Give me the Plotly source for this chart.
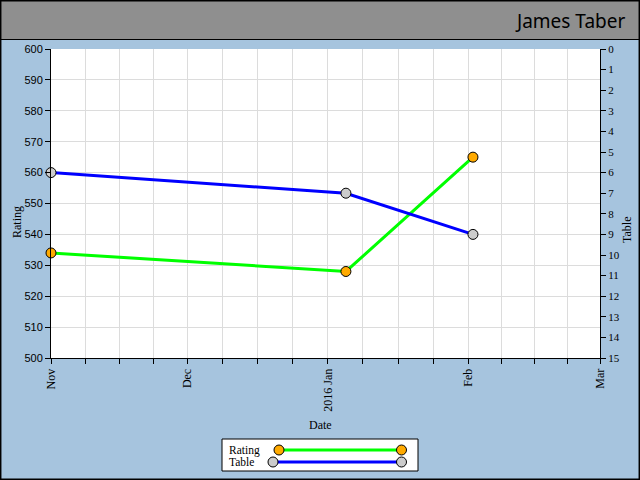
import plotly.graph_objects as go
import pandas as pd

# ---- data ----
dates = ["2015-11-01", "2016-01-05", "2016-02-02"]
rating = [534, 528, 565]
table_pos = [6, 7, 9]
month_starts = ["2015-11-01", "2015-12-01", "2016-01-01", "2016-02-01", "2016-03-01"]
month_labels = ["Nov", "Dec", "2016 Jan", "Feb", "Mar"]
rating_ticks = list(range(500, 601, 10))
table_ticks = list(range(0, 16))

W, H = 640, 480
L, R, T, B = 51, 600, 49, 358


def px(x):
    return (x - L) / (R - L)


def py(y):
    return (B - y) / (B - T)


ms = pd.to_datetime(month_starts)
minor_vals = []
for a, b in zip(ms[:-1], ms[1:]):
    for k in (1, 2, 3):
        minor_vals.append((a + (b - a) * k / 4).isoformat())

GREEN = "#00ff00"
BLUE = "#0000ff"
ORANGE = "#ffaa00"
GREY = "#cccccc"
GRID = "#dcdcdc"
BG = "#a6c4de"
SERIF = "Liberation Serif"

fig = go.Figure()
fig.add_trace(go.Scatter(
    x=dates, y=rating, name="Rating", mode="lines+markers",
    line=dict(color=GREEN, width=3),
    marker=dict(size=10, color=ORANGE, line=dict(color="black", width=1)),
    yaxis="y", showlegend=False, cliponaxis=False))
fig.add_trace(go.Scatter(
    x=dates, y=table_pos, name="Table", mode="lines+markers",
    line=dict(color=BLUE, width=3),
    marker=dict(size=10, color=GREY, line=dict(color="black", width=1)),
    yaxis="y2", showlegend=False, cliponaxis=False))

shapes = []
# header band
shapes.append(dict(type="rect", xref="paper", yref="paper",
                   x0=px(0), x1=px(640), y0=py(39.5), y1=py(0),
                   fillcolor="#8f8f8f", line=dict(color="black", width=1), layer="below"))
# outer border
shapes.append(dict(type="rect", xref="paper", yref="paper",
                   x0=px(0.7), x1=px(639.3), y0=py(479.3), y1=py(0.7),
                   line=dict(color="black", width=1.5), layer="above"))
# legend box
shapes.append(dict(type="rect", xref="paper", yref="paper",
                   x0=px(222), x1=px(418), y0=py(471), y1=py(439),
                   fillcolor="white", line=dict(color="black", width=1), layer="above"))
legend_rows = [("Rating", GREEN, ORANGE, 279, 450),
               ("Table", BLUE, GREY, 273, 462)]
annotations = []
for name, lc, mc, x0, yy in legend_rows:
    shapes.append(dict(type="line", xref="paper", yref="paper",
                       x0=px(x0), x1=px(401.5), y0=py(yy), y1=py(yy),
                       line=dict(color=lc, width=3), layer="above"))
    for cx in (x0, 401.5):
        shapes.append(dict(type="circle", xref="paper", yref="paper",
                           xsizemode="pixel", ysizemode="pixel",
                           xanchor=px(cx), yanchor=py(yy),
                           x0=-5, x1=5, y0=-5, y1=5,
                           fillcolor=mc, line=dict(color="black", width=1), layer="above"))
    annotations.append(dict(text=name, xref="paper", yref="paper",
                            x=px(228), y=py(yy), xanchor="left", yanchor="middle",
                            showarrow=False, borderpad=0,
                            font=dict(family=SERIF, size=11.5, color="black")))

annotations.append(dict(text="James Taber", xref="paper", yref="paper",
                        x=px(627), y=py(21), xanchor="right", yanchor="middle",
                        showarrow=False, font=dict(family="Noto Sans", size=19, color="black")))
annotations.append(dict(text="Rating", xref="paper", yref="paper",
                        x=px(17), y=py(222), xanchor="center", yanchor="middle", textangle=-90,
                        showarrow=False, font=dict(family=SERIF, size=12, color="black")))
annotations.append(dict(text="Table", xref="paper", yref="paper",
                        x=px(627), y=py(230), xanchor="center", yanchor="middle", textangle=-90,
                        showarrow=False, font=dict(family=SERIF, size=12, color="black")))
annotations.append(dict(text="Date", xref="paper", yref="paper",
                        x=px(320), y=py(425), xanchor="center", yanchor="middle",
                        showarrow=False, font=dict(family=SERIF, size=12, color="black")))

fig.update_layout(
    width=W, height=H,
    margin=dict(l=L, r=W - R, t=T, b=H - B, pad=0),
    paper_bgcolor=BG, plot_bgcolor="white",
    font=dict(family=SERIF, size=12, color="black"),
    shapes=shapes, annotations=annotations,
    xaxis=dict(
        type="date", range=[month_starts[0], month_starts[-1]],
        tickmode="array", tickvals=month_starts, ticktext=month_labels,
        tickangle=-90, ticks="outside", ticklen=5, tickcolor="black", tickwidth=1,
        showline=True, linecolor="black", linewidth=1,
        showgrid=True, gridcolor=GRID, gridwidth=1, zeroline=False,
        tickfont=dict(family=SERIF, size=12),
        minor=dict(tickmode="array", tickvals=minor_vals, ticks="outside", ticklen=5,
                   tickcolor="black", tickwidth=1, showgrid=True, gridcolor=GRID, gridwidth=1),
    ),
    yaxis=dict(
        range=[500, 600], tickmode="array", tickvals=rating_ticks,
        ticks="outside", ticklen=5, tickcolor="black",
        showline=True, linecolor="black", linewidth=1,
        showgrid=True, gridcolor=GRID, gridwidth=1, zeroline=False,
        tickfont=dict(family="Liberation Sans", size=11),
    ),
    yaxis2=dict(
        overlaying="y", side="right", range=[15, 0],
        tickmode="array", tickvals=table_ticks,
        ticks="outside", ticklen=5, tickcolor="black",
        showline=True, linecolor="black", linewidth=1,
        showgrid=False, zeroline=False,
        tickfont=dict(family=SERIF, size=11),
    ),
)

fig.write_html("out.html", config={"displayModeBar": False},
               post_script="document.body.style.margin='0';document.body.style.padding='0';")
